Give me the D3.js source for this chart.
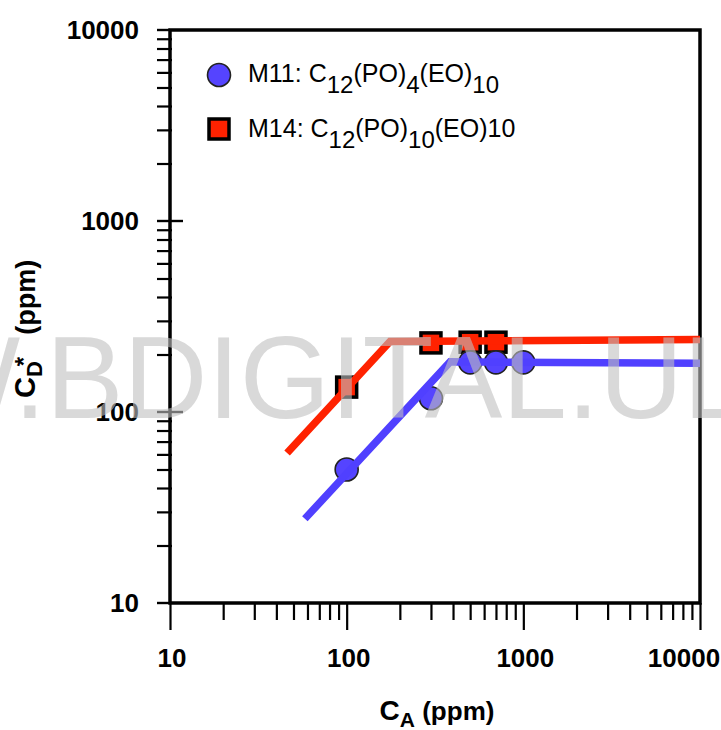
<!DOCTYPE html>
<html><head><meta charset="utf-8">
<script src="https://cdn.jsdelivr.net/npm/d3@7"></script>
<style>body{margin:0;background:#fff} svg{display:block}</style>
</head><body>
<svg id="c" width="721" height="730"></svg>
<script>
// ---- data ----
const m11CA = [100, 300, 500, 700, 1000];
const m11CD = [50, 118, 182, 182, 182];
const m14CA = [100, 300, 500, 700];
const m14CD = [135, 230, 232, 232];
const m11FitCA = [58, 385, 10000];
const m11FitCD = [27.6, 183, 180];
const m14FitCA = [46, 176, 10000];
const m14FitCD = [61, 234, 240];
const xTickLabels = [10, 100, 1000, 10000];
const yTickLabels = [10, 100, 1000, 10000];
const legendNames = ["M11", "M14"];

const svg = d3.select("#c");
const L = 170, R = 700, T = 30, B = 603;
const x = d3.scaleLog().domain([10, 10000]).range([L, R]);
const y = d3.scaleLog().domain([10, 10000]).range([B, T]);
const BLUE = "#5040ff", RED = "#ff2200";
const FONT = "'Liberation Sans', Arial, sans-serif";

// minor tick values
const minor = [];
for (let d = 10; d < 10000; d *= 10) for (let k = 2; k <= 9; k++) minor.push(d * k);

// ---- x axis ----
const gx = svg.append("g").attr("transform", `translate(0,${B})`);
gx.call(d3.axisBottom(x).tickValues(minor).tickSize(17).tickFormat(""));
gx.append("g").call(d3.axisBottom(x).tickValues(xTickLabels).tickSize(27).tickFormat(""));
gx.selectAll(".domain").remove();
gx.selectAll("line").attr("stroke", "#000").attr("stroke-width", 2.2);
svg.append("g").selectAll("text").data(xTickLabels).join("text")
  .attr("x", d => d === 10000 ? x(d) - 16 : x(d) + 2).attr("y", 667)
  .attr("text-anchor", "middle").attr("font-family", FONT).attr("font-weight", "bold")
  .attr("font-size", 26).text(d => d);

// ---- y axis ----
const gy = svg.append("g").attr("transform", `translate(${L + 2},0)`);
gy.call(d3.axisLeft(y).tickValues(minor).tickSize(15).tickFormat(""));
gy.selectAll(".domain").remove();
gy.selectAll("line").attr("stroke", "#000").attr("stroke-width", 2.2);
svg.append("g").selectAll("line").data(yTickLabels).join("line")
  .attr("x1", 157).attr("x2", d => (d === 10 || d === 10000) ? L : 183)
  .attr("y1", d => y(d)).attr("y2", d => y(d))
  .attr("stroke", "#000").attr("stroke-width", 2.4);
svg.append("g").selectAll("text").data(yTickLabels).join("text")
  .attr("x", 139).attr("y", d => y(d) + 9)
  .attr("text-anchor", "end").attr("font-family", FONT).attr("font-weight", "bold")
  .attr("font-size", 26).text(d => d);

// ---- frame ----
svg.append("rect").attr("x", L).attr("y", T).attr("width", R - L).attr("height", B - T)
  .attr("fill", "none").attr("stroke", "#000").attr("stroke-width", 3.5);

// ---- axis titles ----
const xt = svg.append("text").attr("x", 437).attr("y", 720).attr("text-anchor", "middle")
  .attr("font-family", FONT).attr("font-weight", "bold").attr("font-size", 26);
xt.append("tspan").attr("font-size", 28).text("C");
xt.append("tspan").attr("font-size", 21).attr("dy", 7).text("A");
xt.append("tspan").attr("dy", -7).text(" (ppm)");

const yt = svg.append("text").attr("transform", "translate(35,398) rotate(-90)")
  .attr("font-family", FONT).attr("font-weight", "bold").attr("font-size", 27);
yt.append("tspan").attr("font-size", 29).text("C");
yt.append("tspan").attr("font-size", 22).attr("dy", 7).text("D");
yt.append("tspan").attr("font-size", 24).attr("dy", -10).attr("dx", -5).text("*");
yt.append("tspan").attr("dy", 3).attr("dx", 22).text("(ppm)");

// ---- markers ----
const sq = 20;
svg.append("g").selectAll("rect").data(m14CA).join("rect")
  .attr("x", (d) => x(d) - sq / 2).attr("y", (d, i) => y(m14CD[i]) - sq / 2)
  .attr("width", sq).attr("height", sq)
  .attr("fill", RED).attr("stroke", "#000").attr("stroke-width", 3.5);
svg.append("g").selectAll("circle").data(m11CA).join("circle")
  .attr("cx", d => x(d)).attr("cy", (d, i) => y(m11CD[i])).attr("r", 11.5)
  .attr("fill", "#5544ff").attr("stroke", "#222").attr("stroke-width", 1.6);

// ---- fit lines ----
const line = d3.line().x(d => x(d[0])).y(d => y(d[1]));
svg.append("path").datum(m14FitCA.map((v, i) => [v, m14FitCD[i]]))
  .attr("d", line).attr("fill", "none").attr("stroke", RED).attr("stroke-width", 7.5);
svg.append("path").datum(m11FitCA.map((v, i) => [v, m11FitCD[i]]))
  .attr("d", line).attr("fill", "none").attr("stroke", BLUE).attr("stroke-width", 7.5);

// ---- legend ----
svg.append("circle").attr("cx", 219).attr("cy", 75).attr("r", 11.5)
  .attr("fill", "#5544ff").attr("stroke", "#222").attr("stroke-width", 1.6);
svg.append("rect").attr("x", 219 - sq / 2).attr("y", 129 - sq / 2).attr("width", sq).attr("height", sq)
  .attr("fill", RED).attr("stroke", "#000").attr("stroke-width", 3.5);

function formula(yb, parts) {
  const t = svg.append("text").attr("x", 248).attr("y", yb)
    .attr("font-family", FONT).attr("font-size", 25).attr("fill", "#000");
  let down = false;
  parts.forEach(p => {
    const s = t.append("tspan").text(p.t);
    if (p.sub && !down) { s.attr("dy", 11).attr("font-size", 24); down = true; }
    else if (p.sub) { s.attr("font-size", 24); }
    else if (down) { s.attr("dy", -11); down = false; }
  });
}
formula(82, [{t: legendNames[0] + ": C"}, {t: "12", sub: 1}, {t: "(PO)"}, {t: "4", sub: 1}, {t: "(EO)"}, {t: "10", sub: 1}]);
formula(137, [{t: legendNames[1] + ": C"}, {t: "12", sub: 1}, {t: "(PO)"}, {t: "10", sub: 1}, {t: "(EO)10"}]);

// ---- watermark ----
const wm = svg.append("text").attr("font-family", FONT).attr("font-size", 116)
  .attr("fill", "#c0c0c0").attr("fill-opacity", 0.6).text("W.BDIGITAL.ULA.VE");
const n = wm.node();
const posB = n.getSubStringLength(0, 2);
const spanBL = n.getSubStringLength(2, 8);
const s = 521 / spanBL;
wm.attr("transform", `translate(${46 - posB * s},418) scale(${s},1)`);
</script>
</body></html>
